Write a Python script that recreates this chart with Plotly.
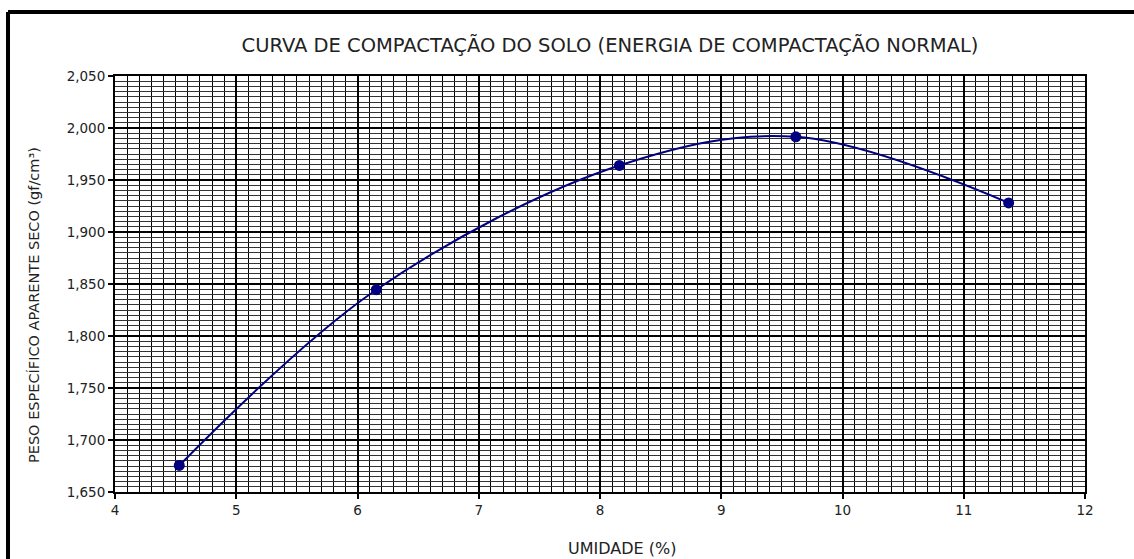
import plotly.graph_objects as go

umidade = [4.53, 6.155, 8.16, 9.615, 11.37]
peso = [1.6755, 1.8445, 1.964, 1.9915, 1.928]

x_ticks = [4, 5, 6, 7, 8, 9, 10, 11, 12]
y_ticks = [1.650, 1.700, 1.750, 1.800, 1.850, 1.900, 1.950, 2.000, 2.050]

W, H = 1134, 559
L, R, T, B = 115, 49, 76, 67
pw, ph = W - L - R, H - T - B

fig = go.Figure()
fig.add_trace(go.Scatter(
    x=umidade, y=peso, mode="lines+markers",
    line=dict(color="#000080", width=2, shape="spline", smoothing=1),
    marker=dict(color="#000080", size=11, symbol="circle"),
    showlegend=False, hoverinfo="x+y",
))

font = "DejaVu Sans, Verdana, sans-serif"
txt = "#222"
fig.update_layout(
    width=W, height=H,
    margin=dict(l=L, r=R, t=T, b=B),
    paper_bgcolor="white", plot_bgcolor="white",
    separators=",.",
    font=dict(family=font, color="black", size=13),
    title=dict(text="CURVA DE COMPACTAÇÃO DO SOLO (ENERGIA DE COMPACTAÇÃO NORMAL)",
               x=610 / W, xanchor="center", y=1 - 45 / H, yanchor="middle",
               font=dict(size=19.5, color=txt, family=font)),
    xaxis=dict(
        range=[4, 12], tickvals=x_ticks, ticktext=[str(v) for v in x_ticks],
        showgrid=True, gridcolor="black", gridwidth=2,
        minor=dict(dtick=0.1, showgrid=True, gridcolor="black", gridwidth=1, ticks=""),
        showline=True, linecolor="black", linewidth=2, mirror=True,
        ticks="outside", ticklen=5, tickwidth=2, tickcolor="black",
        tickfont=dict(size=13.5, family=font, color=txt), zeroline=False,
    ),
    yaxis=dict(
        range=[1.650, 2.050], tickvals=y_ticks, tickformat=".3f",
        showgrid=True, gridcolor="black", gridwidth=2,
        minor=dict(dtick=0.005, showgrid=True, gridcolor="#333", gridwidth=1, ticks=""),
        showline=True, linecolor="black", linewidth=2, mirror=True,
        ticks="outside", ticklen=5, tickwidth=2, tickcolor="black",
        tickfont=dict(size=13.5, family=font, color=txt), zeroline=False,
    ),
)

# axis titles placed as annotations
fig.add_annotation(text="UMIDADE (%)", xref="paper", yref="paper",
                   x=(622 - L) / pw, y=-(548 - T - ph) / ph, xanchor="center", yanchor="middle",
                   showarrow=False, font=dict(size=16, family=font, color=txt))
fig.add_annotation(text="PESO ESPECÍFICO APARENTE SECO (gf/cm³)", xref="paper", yref="paper",
                   x=(34 - L) / pw, y=1 - (305 - T) / ph, xanchor="center", yanchor="middle",
                   textangle=-90, showarrow=False, font=dict(size=14.5, family=font, color=txt))

# outer frame (left and top edges visible)
fx = (8 - L) / pw
fy = 1 + (T - 12) / ph
fig.add_shape(type="line", xref="paper", yref="paper", x0=fx, x1=fx, y0=-0.5, y1=fy,
              line=dict(color="black", width=4))
fig.add_shape(type="line", xref="paper", yref="paper", x0=fx, x1=1.5, y0=fy, y1=fy,
              line=dict(color="black", width=4))

fig.write_html("out.html", config={"displayModeBar": False},
               post_script="document.body.style.margin='0';document.body.style.overflow='hidden';")
